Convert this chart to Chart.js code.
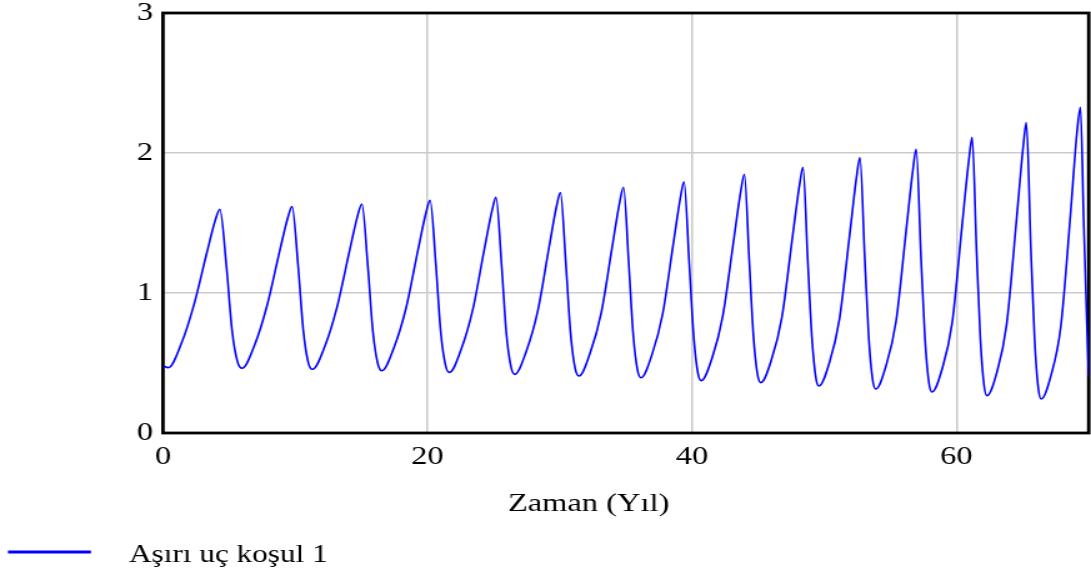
<!DOCTYPE html>
<html>
<head>
<meta charset="utf-8">
<title>Aşırı uç koşul 1</title>
<script src="https://cdn.jsdelivr.net/npm/chart.js@4.4.1/dist/chart.umd.min.js"></script>
<style>
	html, body { margin: 0; padding: 0; background: #ffffff; }
</style>
</head>
<body>
<!-- drawn 873 wide, shown 1091 wide: the serif text is drawn wide like the original -->
<canvas id="chart-kosul" width="873" height="573" style="display:block;width:1091px;height:573px"></canvas>
<script>

/* Data */

var seriesLabel = "Aşırı uç koşul 1";
var axisTitle = "Zaman (Yıl)";

var years = [
	0, 0.4, 1.38, 2.35, 3.33, 3.99, 4.30, 4.80, 5.22, 5.64,
	5.98, 6.93, 7.87, 8.82, 9.46, 9.76, 10.22, 10.61, 10.99,
	11.30, 12.24, 13.17, 14.11, 14.74, 15.04, 15.49, 15.87, 16.25,
	16.55, 17.46, 18.38, 19.29, 19.91, 20.20, 20.64, 21.00, 21.37,
	21.66, 22.54, 23.42, 24.30, 24.90, 25.18, 25.61, 25.96, 26.32,
	26.60, 27.46, 28.33, 29.19, 29.77, 30.05, 30.47, 30.82, 31.17,
	31.45, 32.29, 33.14, 33.98, 34.55, 34.82, 35.22, 35.55, 35.88,
	36.15, 36.96, 37.78, 38.59, 39.14, 39.40, 39.79, 40.12, 40.44,
	40.70, 41.52, 42.33, 43.15, 43.70, 43.96, 44.33, 44.64, 44.95,
	45.20, 46.00, 46.80, 47.59, 48.14, 48.39, 48.75, 49.06, 49.36,
	49.60, 50.38, 51.15, 51.93, 52.45, 52.70, 53.06, 53.36, 53.66,
	53.90, 54.66, 55.43, 56.19, 56.71, 56.95, 57.31, 57.61, 57.91,
	58.15, 58.91, 59.67, 60.42, 60.94, 61.18, 61.52, 61.80, 62.08,
	62.30, 63.05, 63.79, 64.54, 65.04, 65.28, 65.62, 65.90, 66.18,
	66.40, 67.14, 67.89, 68.63, 69.10, 69.37, 69.62, 69.85, 70.00
];

var values = [
	0.480, 0.467, 0.637, 0.919, 1.293, 1.530, 1.598, 1.189, 0.735, 0.507,
	0.462, 0.629, 0.911, 1.298, 1.545, 1.617, 1.191, 0.733, 0.501,
	0.455, 0.620, 0.903, 1.302, 1.560, 1.636, 1.191, 0.727, 0.493,
	0.445, 0.609, 0.893, 1.310, 1.582, 1.662, 1.194, 0.723, 0.482,
	0.433, 0.596, 0.879, 1.313, 1.597, 1.683, 1.191, 0.715, 0.470,
	0.419, 0.581, 0.868, 1.325, 1.625, 1.717, 1.198, 0.712, 0.459,
	0.407, 0.569, 0.860, 1.338, 1.657, 1.755, 1.207, 0.709, 0.449,
	0.395, 0.556, 0.850, 1.354, 1.690, 1.795, 1.212, 0.701, 0.431,
	0.374, 0.536, 0.837, 1.375, 1.735, 1.848, 1.228, 0.701, 0.420,
	0.360, 0.521, 0.828, 1.394, 1.777, 1.898, 1.236, 0.691, 0.398,
	0.336, 0.499, 0.814, 1.422, 1.835, 1.967, 1.255, 0.688, 0.380,
	0.314, 0.477, 0.798, 1.444, 1.885, 2.029, 1.267, 0.682, 0.362,
	0.293, 0.457, 0.786, 1.481, 1.956, 2.112, 1.289, 0.678, 0.341,
	0.267, 0.433, 0.776, 1.527, 2.045, 2.217, 1.323, 0.679, 0.322,
	0.243, 0.410, 0.764, 1.576, 2.139, 2.326, 1.500, 0.800, 0.400
];

var xTicks = [ 0, 20, 40, 60 ];
var yTicks = [ 0, 1, 2, 3 ];

/* Frame, axis title and legend */

var serif = "'Liberation Serif', 'Times New Roman', serif";

var framePlugin = {
	id: 'frame',
	beforeDatasetsDraw: function( chart ) {
		var a = chart.chartArea, c = chart.ctx;
		c.save();
		c.strokeStyle = '#000000';
		c.lineWidth = 2.8;
		c.strokeRect( a.left, a.top, a.right - a.left, a.bottom - a.top );
		c.restore();
	},
	afterDraw: function( chart ) {
		var c = chart.ctx, ds = chart.data.datasets[0];
		c.save();
		c.fillStyle = '#000000';
		c.textBaseline = 'alphabetic';
		c.font = '26px ' + serif;
		c.textAlign = 'center';
		c.fillText( axisTitle, 471, 511 );

		c.strokeStyle = ds.borderColor;
		c.lineWidth = 3;
		c.beginPath();
		c.moveTo( 6.4, 552 );
		c.lineTo( 72.8, 552 );
		c.stroke();

		c.font = '25px ' + serif;
		c.textAlign = 'left';
		c.fillText( ds.label, 103.2, 562 );
		c.restore();
	}
};

/* Chart */

var ctxkosul = document.getElementById("chart-kosul").getContext('2d');
var myChart = new Chart(ctxkosul, {
	type: 'line',
	data: {
		datasets: [{
			label: seriesLabel,
			data: years.map(function( x, i ) { return { x: x, y: values[i] }; }),
			borderColor: '#0000ff',
			borderWidth: 1.6,
			pointRadius: 0,
			cubicInterpolationMode: 'monotone',
			fill: false
		}]
	},
	options: {
		responsive: false,
		animation: false,
		devicePixelRatio: 1,
		layout: { padding: { top: 13, right: 1.8, left: 0, bottom: 0 } },
		plugins: {
			legend: { display: false },
			tooltip: { enabled: false }
		},
		scales: {
			x: {
				type: 'linear',
				min: 0,
				max: 70,
				afterBuildTicks: function( scale ) {
					scale.ticks = xTicks.map(function( v ) { return { value: v }; });
				},
				afterFit: function( scale ) { scale.height = 140; },
				ticks: {
					color: '#000000',
					padding: 11,
					maxRotation: 0,
					font: { family: serif, size: 26, lineHeight: 1 }
				},
				grid: { color: '#cccccc', lineWidth: 1.6, drawTicks: false },
				border: { display: false }
			},
			y: {
				min: 0,
				max: 3,
				afterBuildTicks: function( scale ) {
					scale.ticks = yTicks.map(function( v ) { return { value: v }; });
				},
				afterFit: function( scale ) { scale.width = 130.4; },
				ticks: {
					color: '#000000',
					padding: 8,
					font: { family: serif, size: 26, lineHeight: 0.3 }
				},
				grid: { color: '#cccccc', lineWidth: 1.6, drawTicks: false },
				border: { display: false }
			}
		}
	},
	plugins: [ framePlugin ]
});

</script>
</body>
</html>
